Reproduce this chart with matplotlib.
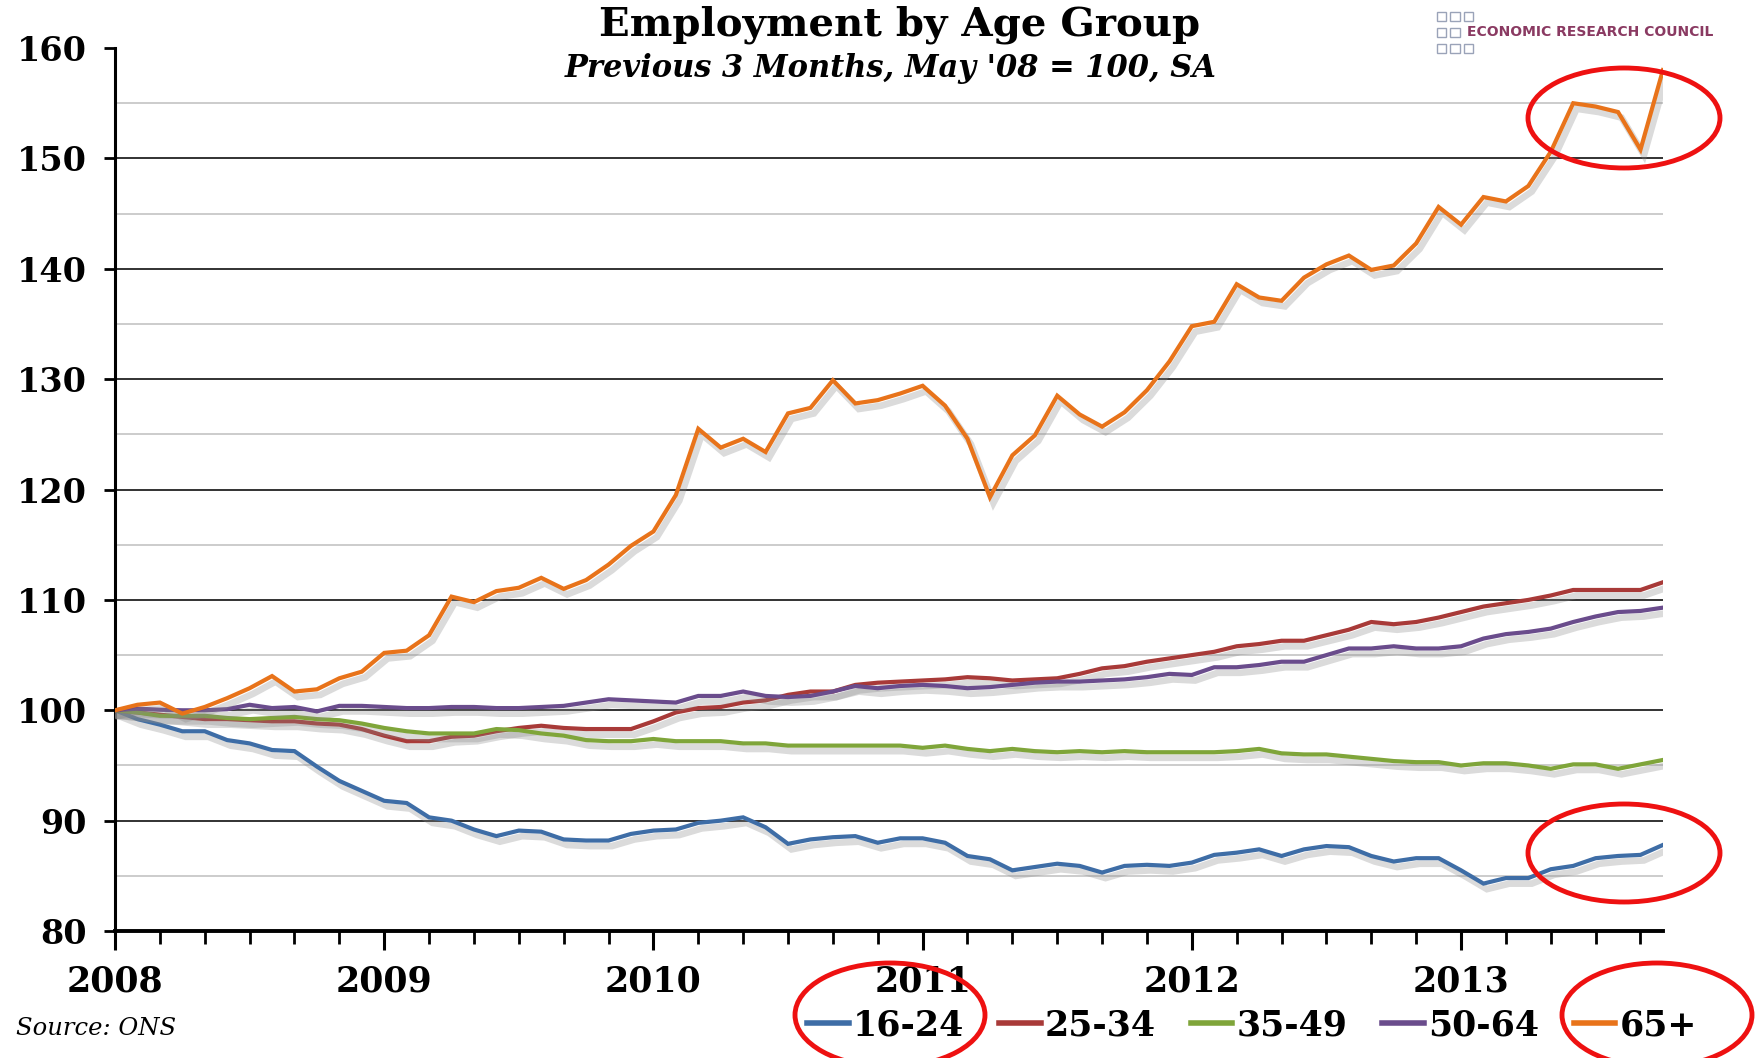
import numpy as np
import matplotlib
matplotlib.use("Agg")
import matplotlib.pyplot as plt
import matplotlib.patheffects as pe
from matplotlib.patches import Ellipse, Rectangle

# Monthly index values (3-month average), May 2008 = 100
age_16_24 = [100.0, 99.2, 98.7, 98.1, 98.1, 97.3, 97.0, 96.4, 96.3, 94.9,
             93.6, 92.7, 91.8, 91.6, 90.3, 90.0, 89.2, 88.6, 89.1, 89.0,
             88.3, 88.2, 88.2, 88.8, 89.1, 89.2, 89.8, 90.0, 90.3, 89.4,
             87.9, 88.3, 88.5, 88.6, 88.0, 88.4, 88.4, 88.0, 86.8, 86.5,
             85.5, 85.8, 86.1, 85.9, 85.3, 85.9, 86.0, 85.9, 86.2, 86.9,
             87.1, 87.4, 86.8, 87.4, 87.7, 87.6, 86.8, 86.3, 86.6, 86.6,
             85.5, 84.3, 84.8, 84.8, 85.6, 85.9, 86.6, 86.8, 86.9, 87.8]
age_25_34 = [100.0, 99.8, 99.6, 99.4, 99.2, 99.2, 99.1, 99.0, 99.0, 98.8,
             98.7, 98.3, 97.7, 97.2, 97.2, 97.6, 97.7, 98.1, 98.4, 98.6,
             98.4, 98.3, 98.3, 98.3, 99.0, 99.8, 100.2, 100.3, 100.7, 100.9,
             101.4, 101.7, 101.7, 102.3, 102.5, 102.6, 102.7, 102.8, 103.0, 102.9,
             102.7, 102.8, 102.9, 103.3, 103.8, 104.0, 104.4, 104.7, 105.0, 105.3,
             105.8, 106.0, 106.3, 106.3, 106.8, 107.3, 108.0, 107.8, 108.0, 108.4,
             108.9, 109.4, 109.7, 110.0, 110.4, 110.9, 110.9, 110.9, 110.9, 111.6]
age_35_49 = [100.0, 99.8, 99.5, 99.5, 99.5, 99.3, 99.2, 99.3, 99.4, 99.2,
             99.1, 98.8, 98.4, 98.1, 97.9, 97.9, 97.9, 98.3, 98.2, 97.9,
             97.7, 97.3, 97.2, 97.2, 97.4, 97.2, 97.2, 97.2, 97.0, 97.0,
             96.8, 96.8, 96.8, 96.8, 96.8, 96.8, 96.6, 96.8, 96.5, 96.3,
             96.5, 96.3, 96.2, 96.3, 96.2, 96.3, 96.2, 96.2, 96.2, 96.2,
             96.3, 96.5, 96.1, 96.0, 96.0, 95.8, 95.6, 95.4, 95.3, 95.3,
             95.0, 95.2, 95.2, 95.0, 94.7, 95.1, 95.1, 94.7, 95.1, 95.5]
age_50_64 = [100.0, 100.15, 100.05, 100.0, 100.0, 100.1, 100.5, 100.2, 100.3, 99.9,
             100.4, 100.4, 100.3, 100.2, 100.2, 100.3, 100.3, 100.2, 100.2, 100.3,
             100.4, 100.7, 101.0, 100.9, 100.8, 100.7, 101.3, 101.3, 101.7, 101.3,
             101.2, 101.3, 101.7, 102.2, 102.0, 102.2, 102.3, 102.2, 102.0, 102.1,
             102.3, 102.5, 102.6, 102.6, 102.7, 102.8, 103.0, 103.3, 103.2, 103.9,
             103.9, 104.1, 104.4, 104.4, 105.0, 105.6, 105.6, 105.8, 105.6, 105.6,
             105.8, 106.5, 106.9, 107.1, 107.4, 108.0, 108.5, 108.9, 109.0, 109.3]
age_65_plus = [100.0, 100.5, 100.7, 99.7, 100.3, 101.1, 102.0, 103.1, 101.7, 101.9,
               102.9, 103.5, 105.2, 105.4, 106.8, 110.3, 109.8, 110.8, 111.1, 112.0,
               111.0, 111.8, 113.2, 114.9, 116.2, 119.5, 125.5, 123.8, 124.6, 123.4,
               126.9, 127.4, 129.9, 127.8, 128.1, 128.7, 129.4, 127.6, 124.6, 119.3,
               123.1, 124.9, 128.5, 126.8, 125.7, 127.0, 129.0, 131.6, 134.8, 135.2,
               138.6, 137.4, 137.1, 139.2, 140.4, 141.2, 139.9, 140.3, 142.3, 145.6,
               144.0, 146.5, 146.1, 147.5, 150.6, 155.0, 154.7, 154.2, 150.8, 158.0]

labels = ["16-24", "25-34", "35-49", "50-64", "65+"]
series = [age_16_24, age_25_34, age_35_49, age_50_64, age_65_plus]
colors = ["#3E6DA6", "#A83A38", "#7FA53A", "#6A4C8C", "#E8731A"]
year_labels = ["2008", "2009", "2010", "2011", "2012", "2013"]

serif = "DejaVu Serif"
fig = plt.figure(figsize=(17.56, 10.58), dpi=100)
ax = fig.add_axes([0.0655, 0.12, 0.8815, 0.8346])

x = np.arange(len(age_16_24))

# gridlines: black at 10s, grey at 5s
for v in range(85, 160, 5):
    if v % 10 == 0:
        ax.axhline(v, color="#222222", lw=1.3, zorder=1)
    else:
        ax.axhline(v, color="#c8c8c8", lw=1.3, zorder=1)

shadow = [pe.SimpleLineShadow(offset=(2.5, -4), shadow_color="#888888", alpha=0.3,
                              linewidth=4.8),
          pe.Normal()]
for vals, lab, c in zip(series, labels, colors):
    ax.plot(x, vals, color=c, lw=3.0, label=lab, zorder=3,
            path_effects=shadow, solid_joinstyle="miter")

ax.set_xlim(0, len(x) - 1)
ax.set_ylim(80, 160)

ax.set_yticks(range(80, 161, 10))
ax.set_xticks(np.arange(0, 61, 12))
ax.set_xticks(np.arange(0, len(x), 2), minor=True)
ax.set_xticklabels(year_labels)

for s in ["top", "right"]:
    ax.spines[s].set_visible(False)
ax.spines["left"].set_linewidth(2.2)
ax.spines["bottom"].set_linewidth(2.8)

ax.tick_params(axis="y", direction="out", length=8, width=2, pad=12,
               labelsize=24)
ax.tick_params(axis="x", which="major", direction="out", length=14, width=2.2,
               pad=10, labelsize=25)
ax.tick_params(axis="x", which="minor", direction="out", length=9, width=2)
for t in ax.get_xticklabels() + ax.get_yticklabels():
    t.set_fontfamily(serif)
    t.set_fontweight("bold")

fig.text(0.512, 0.977, "Employment by Age Group", ha="center", va="center",
         fontsize=29, fontweight="bold", family=serif)
fig.text(0.507, 0.935, "Previous 3 Months, May '08 = 100, SA", ha="center",
         va="center", fontsize=22, fontweight="bold", style="italic", family=serif)
fig.text(0.009, 0.028, "Source: ONS", ha="left", va="center", fontsize=17.5,
         style="italic", family=serif)

leg = fig.legend(loc="center", bbox_to_anchor=(0.713, 0.031), ncol=5,
                 frameon=False, handlelength=1.2, handletextpad=0.12,
                 columnspacing=1.0,
                 prop={"family": serif, "weight": "bold", "size": 25})
for h in leg.get_lines():
    h.set_linewidth(4)
    h.set_path_effects([])

# logo
sq_col = "#9aa3b8"
sw, sh = 0.0052, 0.0085
for r in range(3):
    for cidx in range(3):
        if r == 1 and cidx == 2:
            continue
        fig.patches.append(Rectangle((0.8185 + cidx * 0.0075, 0.9805 - r * 0.0152),
                                     sw, sh, transform=fig.transFigure,
                                     fill=False, ec=sq_col, lw=1))
fig.text(0.8355, 0.9695, "ECONOMIC RESEARCH COUNCIL", ha="left", va="center",
         fontsize=10, fontweight="bold", color="#8a3a62", family="DejaVu Sans")

# red highlight ellipses
for cx, cy, w, h in [(1624, 118, 192, 100), (1624, 853, 192, 98),
                     (890, 1015, 190, 104), (1657, 1015, 190, 104)]:
    fig.patches.append(Ellipse((cx / 1756, 1 - cy / 1058), w / 1756, h / 1058,
                               transform=fig.transFigure, fill=False,
                               ec="#ee1111", lw=3.5, zorder=10))

fig.savefig("out.png", dpi=100)
